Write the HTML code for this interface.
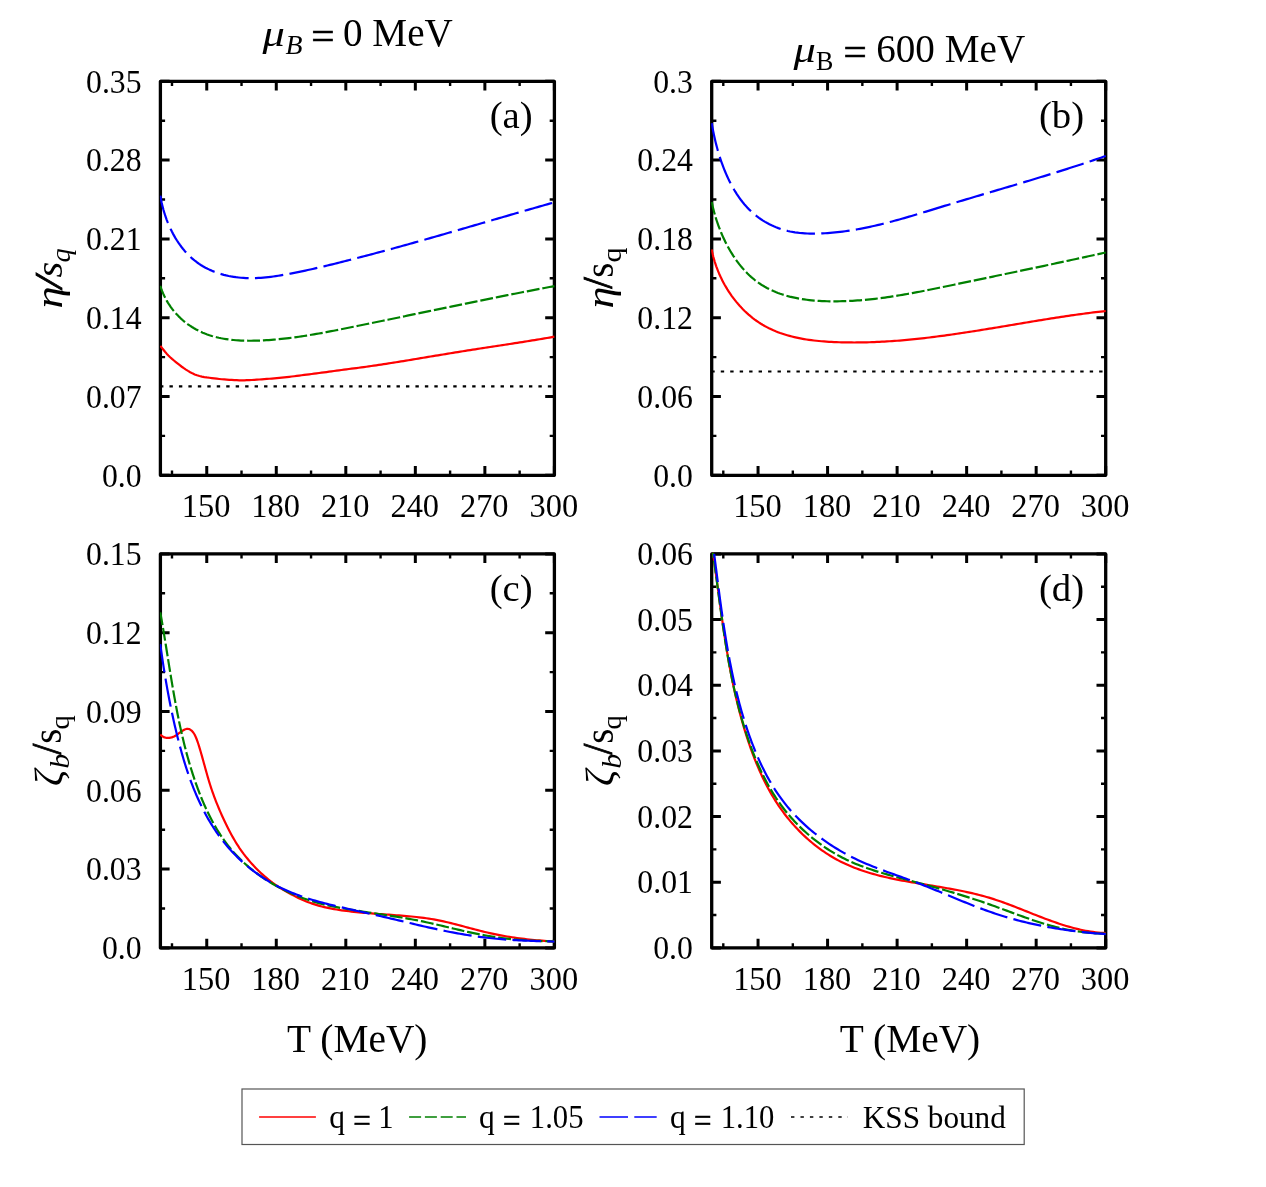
<!DOCTYPE html>
<html><head><meta charset="utf-8"><title>chart</title>
<style>html,body{margin:0;padding:0;background:#fff;}svg{display:block;will-change:transform;}text{font-family:"Liberation Serif",serif;fill:#000;}</style></head><body>
<svg width="1266" height="1187" viewBox="0 0 1266 1187">
<rect x="0" y="0" width="1266" height="1187" fill="#fff"/>
<defs>
<clipPath id="cp_a"><rect x="159.90" y="80.10" width="395.00" height="396.40"/></clipPath>
<clipPath id="cp_b"><rect x="711.20" y="80.10" width="395.00" height="396.40"/></clipPath>
<clipPath id="cp_c"><rect x="159.90" y="552.70" width="395.00" height="396.40"/></clipPath>
<clipPath id="cp_d"><rect x="711.20" y="552.70" width="395.00" height="396.40"/></clipPath>
</defs>
<rect x="160.40" y="81.30" width="394.00" height="394.00" fill="none" stroke="#000" stroke-width="3.30" stroke-linejoin="round"/>
<path d="M206.75,475.30 v-9.20 M206.75,81.30 v9.20 M276.28,475.30 v-9.20 M276.28,81.30 v9.20 M345.81,475.30 v-9.20 M345.81,81.30 v9.20 M415.34,475.30 v-9.20 M415.34,81.30 v9.20 M484.87,475.30 v-9.20 M484.87,81.30 v9.20 M554.40,475.30 v-9.20 M554.40,81.30 v9.20 M160.40,475.30 h9.20 M554.40,475.30 h-9.20 M160.40,396.50 h9.20 M554.40,396.50 h-9.20 M160.40,317.70 h9.20 M554.40,317.70 h-9.20 M160.40,238.90 h9.20 M554.40,238.90 h-9.20 M160.40,160.10 h9.20 M554.40,160.10 h-9.20 M160.40,81.30 h9.20 M554.40,81.30 h-9.20" stroke="#000" stroke-width="3.00" fill="none"/>
<path d="M171.99,475.30 v-4.70 M171.99,81.30 v4.70 M241.52,475.30 v-4.70 M241.52,81.30 v4.70 M311.05,475.30 v-4.70 M311.05,81.30 v4.70 M380.58,475.30 v-4.70 M380.58,81.30 v4.70 M450.11,475.30 v-4.70 M450.11,81.30 v4.70 M519.64,475.30 v-4.70 M519.64,81.30 v4.70 M160.40,435.90 h4.70 M554.40,435.90 h-4.70 M160.40,357.10 h4.70 M554.40,357.10 h-4.70 M160.40,278.30 h4.70 M554.40,278.30 h-4.70 M160.40,199.50 h4.70 M554.40,199.50 h-4.70 M160.40,120.70 h4.70 M554.40,120.70 h-4.70" stroke="#000" stroke-width="2.40" fill="none"/>
<text transform="translate(206.15,517.30) scale(0.965,1)" font-size="33.6" text-anchor="middle">150</text>
<text transform="translate(275.68,517.30) scale(0.965,1)" font-size="33.6" text-anchor="middle">180</text>
<text transform="translate(345.21,517.30) scale(0.965,1)" font-size="33.6" text-anchor="middle">210</text>
<text transform="translate(414.74,517.30) scale(0.965,1)" font-size="33.6" text-anchor="middle">240</text>
<text transform="translate(484.27,517.30) scale(0.965,1)" font-size="33.6" text-anchor="middle">270</text>
<text transform="translate(553.80,517.30) scale(0.965,1)" font-size="33.6" text-anchor="middle">300</text>
<text transform="translate(141.60,486.50) scale(0.945,1)" font-size="33.6" text-anchor="end">0.0</text>
<text transform="translate(141.60,407.70) scale(0.945,1)" font-size="33.6" text-anchor="end">0.07</text>
<text transform="translate(141.60,328.90) scale(0.945,1)" font-size="33.6" text-anchor="end">0.14</text>
<text transform="translate(141.60,250.10) scale(0.945,1)" font-size="33.6" text-anchor="end">0.21</text>
<text transform="translate(141.60,171.30) scale(0.945,1)" font-size="33.6" text-anchor="end">0.28</text>
<text transform="translate(141.60,92.50) scale(0.945,1)" font-size="33.6" text-anchor="end">0.35</text>
<rect x="711.70" y="81.30" width="394.00" height="394.00" fill="none" stroke="#000" stroke-width="3.30" stroke-linejoin="round"/>
<path d="M758.05,475.30 v-9.20 M758.05,81.30 v9.20 M827.58,475.30 v-9.20 M827.58,81.30 v9.20 M897.11,475.30 v-9.20 M897.11,81.30 v9.20 M966.64,475.30 v-9.20 M966.64,81.30 v9.20 M1036.17,475.30 v-9.20 M1036.17,81.30 v9.20 M1105.70,475.30 v-9.20 M1105.70,81.30 v9.20 M711.70,475.30 h9.20 M1105.70,475.30 h-9.20 M711.70,396.50 h9.20 M1105.70,396.50 h-9.20 M711.70,317.70 h9.20 M1105.70,317.70 h-9.20 M711.70,238.90 h9.20 M1105.70,238.90 h-9.20 M711.70,160.10 h9.20 M1105.70,160.10 h-9.20 M711.70,81.30 h9.20 M1105.70,81.30 h-9.20" stroke="#000" stroke-width="3.00" fill="none"/>
<path d="M723.29,475.30 v-4.70 M723.29,81.30 v4.70 M792.82,475.30 v-4.70 M792.82,81.30 v4.70 M862.35,475.30 v-4.70 M862.35,81.30 v4.70 M931.88,475.30 v-4.70 M931.88,81.30 v4.70 M1001.41,475.30 v-4.70 M1001.41,81.30 v4.70 M1070.94,475.30 v-4.70 M1070.94,81.30 v4.70 M711.70,435.90 h4.70 M1105.70,435.90 h-4.70 M711.70,357.10 h4.70 M1105.70,357.10 h-4.70 M711.70,278.30 h4.70 M1105.70,278.30 h-4.70 M711.70,199.50 h4.70 M1105.70,199.50 h-4.70 M711.70,120.70 h4.70 M1105.70,120.70 h-4.70" stroke="#000" stroke-width="2.40" fill="none"/>
<text transform="translate(757.45,517.30) scale(0.965,1)" font-size="33.6" text-anchor="middle">150</text>
<text transform="translate(826.98,517.30) scale(0.965,1)" font-size="33.6" text-anchor="middle">180</text>
<text transform="translate(896.51,517.30) scale(0.965,1)" font-size="33.6" text-anchor="middle">210</text>
<text transform="translate(966.04,517.30) scale(0.965,1)" font-size="33.6" text-anchor="middle">240</text>
<text transform="translate(1035.57,517.30) scale(0.965,1)" font-size="33.6" text-anchor="middle">270</text>
<text transform="translate(1105.10,517.30) scale(0.965,1)" font-size="33.6" text-anchor="middle">300</text>
<text transform="translate(692.90,486.50) scale(0.945,1)" font-size="33.6" text-anchor="end">0.0</text>
<text transform="translate(692.90,407.70) scale(0.945,1)" font-size="33.6" text-anchor="end">0.06</text>
<text transform="translate(692.90,328.90) scale(0.945,1)" font-size="33.6" text-anchor="end">0.12</text>
<text transform="translate(692.90,250.10) scale(0.945,1)" font-size="33.6" text-anchor="end">0.18</text>
<text transform="translate(692.90,171.30) scale(0.945,1)" font-size="33.6" text-anchor="end">0.24</text>
<text transform="translate(692.90,92.50) scale(0.945,1)" font-size="33.6" text-anchor="end">0.3</text>
<rect x="160.40" y="553.90" width="394.00" height="394.00" fill="none" stroke="#000" stroke-width="3.30" stroke-linejoin="round"/>
<path d="M206.75,947.90 v-9.20 M206.75,553.90 v9.20 M276.28,947.90 v-9.20 M276.28,553.90 v9.20 M345.81,947.90 v-9.20 M345.81,553.90 v9.20 M415.34,947.90 v-9.20 M415.34,553.90 v9.20 M484.87,947.90 v-9.20 M484.87,553.90 v9.20 M554.40,947.90 v-9.20 M554.40,553.90 v9.20 M160.40,947.90 h9.20 M554.40,947.90 h-9.20 M160.40,869.10 h9.20 M554.40,869.10 h-9.20 M160.40,790.30 h9.20 M554.40,790.30 h-9.20 M160.40,711.50 h9.20 M554.40,711.50 h-9.20 M160.40,632.70 h9.20 M554.40,632.70 h-9.20 M160.40,553.90 h9.20 M554.40,553.90 h-9.20" stroke="#000" stroke-width="3.00" fill="none"/>
<path d="M171.99,947.90 v-4.70 M171.99,553.90 v4.70 M241.52,947.90 v-4.70 M241.52,553.90 v4.70 M311.05,947.90 v-4.70 M311.05,553.90 v4.70 M380.58,947.90 v-4.70 M380.58,553.90 v4.70 M450.11,947.90 v-4.70 M450.11,553.90 v4.70 M519.64,947.90 v-4.70 M519.64,553.90 v4.70 M160.40,908.50 h4.70 M554.40,908.50 h-4.70 M160.40,829.70 h4.70 M554.40,829.70 h-4.70 M160.40,750.90 h4.70 M554.40,750.90 h-4.70 M160.40,672.10 h4.70 M554.40,672.10 h-4.70 M160.40,593.30 h4.70 M554.40,593.30 h-4.70" stroke="#000" stroke-width="2.40" fill="none"/>
<text transform="translate(206.15,989.90) scale(0.965,1)" font-size="33.6" text-anchor="middle">150</text>
<text transform="translate(275.68,989.90) scale(0.965,1)" font-size="33.6" text-anchor="middle">180</text>
<text transform="translate(345.21,989.90) scale(0.965,1)" font-size="33.6" text-anchor="middle">210</text>
<text transform="translate(414.74,989.90) scale(0.965,1)" font-size="33.6" text-anchor="middle">240</text>
<text transform="translate(484.27,989.90) scale(0.965,1)" font-size="33.6" text-anchor="middle">270</text>
<text transform="translate(553.80,989.90) scale(0.965,1)" font-size="33.6" text-anchor="middle">300</text>
<text transform="translate(141.60,959.10) scale(0.945,1)" font-size="33.6" text-anchor="end">0.0</text>
<text transform="translate(141.60,880.30) scale(0.945,1)" font-size="33.6" text-anchor="end">0.03</text>
<text transform="translate(141.60,801.50) scale(0.945,1)" font-size="33.6" text-anchor="end">0.06</text>
<text transform="translate(141.60,722.70) scale(0.945,1)" font-size="33.6" text-anchor="end">0.09</text>
<text transform="translate(141.60,643.90) scale(0.945,1)" font-size="33.6" text-anchor="end">0.12</text>
<text transform="translate(141.60,565.10) scale(0.945,1)" font-size="33.6" text-anchor="end">0.15</text>
<rect x="711.70" y="553.90" width="394.00" height="394.00" fill="none" stroke="#000" stroke-width="3.30" stroke-linejoin="round"/>
<path d="M758.05,947.90 v-9.20 M758.05,553.90 v9.20 M827.58,947.90 v-9.20 M827.58,553.90 v9.20 M897.11,947.90 v-9.20 M897.11,553.90 v9.20 M966.64,947.90 v-9.20 M966.64,553.90 v9.20 M1036.17,947.90 v-9.20 M1036.17,553.90 v9.20 M1105.70,947.90 v-9.20 M1105.70,553.90 v9.20 M711.70,947.90 h9.20 M1105.70,947.90 h-9.20 M711.70,882.23 h9.20 M1105.70,882.23 h-9.20 M711.70,816.57 h9.20 M1105.70,816.57 h-9.20 M711.70,750.90 h9.20 M1105.70,750.90 h-9.20 M711.70,685.23 h9.20 M1105.70,685.23 h-9.20 M711.70,619.57 h9.20 M1105.70,619.57 h-9.20 M711.70,553.90 h9.20 M1105.70,553.90 h-9.20" stroke="#000" stroke-width="3.00" fill="none"/>
<path d="M723.29,947.90 v-4.70 M723.29,553.90 v4.70 M792.82,947.90 v-4.70 M792.82,553.90 v4.70 M862.35,947.90 v-4.70 M862.35,553.90 v4.70 M931.88,947.90 v-4.70 M931.88,553.90 v4.70 M1001.41,947.90 v-4.70 M1001.41,553.90 v4.70 M1070.94,947.90 v-4.70 M1070.94,553.90 v4.70 M711.70,915.07 h4.70 M1105.70,915.07 h-4.70 M711.70,849.40 h4.70 M1105.70,849.40 h-4.70 M711.70,783.73 h4.70 M1105.70,783.73 h-4.70 M711.70,718.07 h4.70 M1105.70,718.07 h-4.70 M711.70,652.40 h4.70 M1105.70,652.40 h-4.70 M711.70,586.73 h4.70 M1105.70,586.73 h-4.70" stroke="#000" stroke-width="2.40" fill="none"/>
<text transform="translate(757.45,989.90) scale(0.965,1)" font-size="33.6" text-anchor="middle">150</text>
<text transform="translate(826.98,989.90) scale(0.965,1)" font-size="33.6" text-anchor="middle">180</text>
<text transform="translate(896.51,989.90) scale(0.965,1)" font-size="33.6" text-anchor="middle">210</text>
<text transform="translate(966.04,989.90) scale(0.965,1)" font-size="33.6" text-anchor="middle">240</text>
<text transform="translate(1035.57,989.90) scale(0.965,1)" font-size="33.6" text-anchor="middle">270</text>
<text transform="translate(1105.10,989.90) scale(0.965,1)" font-size="33.6" text-anchor="middle">300</text>
<text transform="translate(692.90,959.10) scale(0.945,1)" font-size="33.6" text-anchor="end">0.0</text>
<text transform="translate(692.90,893.43) scale(0.945,1)" font-size="33.6" text-anchor="end">0.01</text>
<text transform="translate(692.90,827.77) scale(0.945,1)" font-size="33.6" text-anchor="end">0.02</text>
<text transform="translate(692.90,762.10) scale(0.945,1)" font-size="33.6" text-anchor="end">0.03</text>
<text transform="translate(692.90,696.43) scale(0.945,1)" font-size="33.6" text-anchor="end">0.04</text>
<text transform="translate(692.90,630.77) scale(0.945,1)" font-size="33.6" text-anchor="end">0.05</text>
<text transform="translate(692.90,565.10) scale(0.945,1)" font-size="33.6" text-anchor="end">0.06</text>
<path d="M160.40,386.42 H554.40" stroke="#000" stroke-width="2.20" stroke-dasharray="3.4 6.06" stroke-dashoffset="0.40" fill="none" clip-path="url(#cp_a)"/>
<path d="M711.70,371.49 H1105.70" stroke="#000" stroke-width="2.20" stroke-dasharray="3.4 6.06" stroke-dashoffset="0.40" fill="none" clip-path="url(#cp_b)"/>
<path d="M160.40,345.80L161.90,347.80 163.44,349.78 165.02,351.73 166.66,353.63 168.37,355.46 170.16,357.22 172.02,358.90 173.92,360.53 175.85,362.13 177.81,363.70 179.78,365.24 181.79,366.75 183.83,368.20 185.92,369.58 188.05,370.91 190.21,372.18 192.42,373.36 194.70,374.41 197.05,375.29 199.45,376.01 201.89,376.59 204.35,377.06 206.83,377.45 209.31,377.78 211.80,378.09 214.29,378.39 216.78,378.70 219.27,378.98 221.76,379.23 224.26,379.45 226.76,379.64 229.26,379.81 231.76,379.96 234.26,380.09 236.77,380.21 239.27,380.28 241.78,380.31 244.29,380.29 246.79,380.22 249.30,380.12 251.80,379.99 254.30,379.84 256.80,379.68 259.30,379.50 261.80,379.32 264.30,379.14 266.80,378.95 269.30,378.75 271.80,378.55 274.30,378.33 276.79,378.11 279.29,377.88 281.78,377.63 284.28,377.37 286.77,377.10 289.26,376.82 291.75,376.53 294.24,376.23 296.72,375.92 299.21,375.60 301.70,375.28 304.18,374.96 306.67,374.64 309.15,374.32 311.64,374.00 314.12,373.68 316.61,373.35 319.10,373.03 321.58,372.70 324.06,372.37 326.55,372.04 329.03,371.70 331.52,371.36 334.00,371.02 336.48,370.68 338.97,370.35 341.45,370.01 343.93,369.68 346.42,369.36 348.91,369.03 351.39,368.71 353.88,368.38 356.36,368.06 358.85,367.73 361.33,367.40 363.81,367.06 366.30,366.72 368.78,366.37 371.26,366.02 373.74,365.66 376.22,365.30 378.70,364.93 381.18,364.56 383.66,364.18 386.13,363.80 388.61,363.42 391.09,363.03 393.56,362.64 396.04,362.24 398.51,361.85 400.99,361.45 403.46,361.04 405.94,360.64 408.41,360.23 410.88,359.82 413.35,359.42 415.83,359.01 418.30,358.59 420.77,358.18 423.24,357.77 425.72,357.36 428.19,356.94 430.66,356.53 433.13,356.12 435.61,355.70 438.08,355.29 440.55,354.88 443.02,354.47 445.50,354.06 447.97,353.65 450.44,353.24 452.91,352.84 455.39,352.44 457.86,352.04 460.34,351.64 462.81,351.24 465.29,350.85 467.76,350.46 470.24,350.07 472.71,349.68 475.19,349.30 477.67,348.91 480.15,348.53 482.62,348.15 485.10,347.77 487.58,347.39 490.05,347.01 492.53,346.63 495.01,346.25 497.49,345.87 499.97,345.49 502.44,345.11 504.92,344.73 507.40,344.35 509.87,343.97 512.35,343.59 514.83,343.20 517.30,342.82 519.78,342.43 522.26,342.04 524.73,341.65 527.21,341.25 529.68,340.85 532.16,340.45 534.63,340.05 537.10,339.65 539.58,339.24 542.05,338.82 544.52,338.41 546.99,337.99 549.46,337.56 551.93,337.13 554.40,336.70" stroke="#ff0000" stroke-width="2.20" fill="none" stroke-linejoin="round" clip-path="url(#cp_a)"/>
<path d="M160.26,285.87L161.13,288.43 162.07,290.93 163.08,293.38 164.17,295.77 165.33,298.10 166.56,300.37 167.86,302.58 169.22,304.73 170.65,306.82 172.13,308.85 173.68,310.82 175.28,312.73 176.94,314.57 178.65,316.35 180.42,318.07 182.23,319.73 184.09,321.32 186.00,322.84 187.95,324.30 189.95,325.70 191.98,327.02 194.05,328.29 196.16,329.48 198.30,330.60 200.48,331.66 202.69,332.65 204.92,333.57 207.18,334.42 209.47,335.21 211.79,335.94 214.12,336.61 216.48,337.21 218.86,337.77 221.26,338.27 223.68,338.71 226.12,339.11 228.57,339.46 231.04,339.76 233.52,340.02 236.01,340.23 238.51,340.40 241.02,340.54 243.54,340.64 246.06,340.70 248.59,340.74 251.12,340.74 253.66,340.71 256.19,340.66 258.73,340.58 261.26,340.48 263.79,340.35 266.32,340.21 268.85,340.05 271.37,339.87 273.89,339.66 276.41,339.45 278.93,339.21 281.44,338.96 283.95,338.68 286.46,338.40 288.96,338.10 291.47,337.78 293.97,337.45 296.47,337.11 298.97,336.75 301.46,336.38 303.95,336.00 306.44,335.61 308.93,335.21 311.42,334.79 313.90,334.37 316.39,333.94 318.87,333.50 321.34,333.05 323.82,332.59 326.30,332.13 328.77,331.67 331.24,331.19 333.71,330.71 336.18,330.23 338.65,329.74 341.11,329.25 343.58,328.76 346.04,328.27 348.50,327.77 350.96,327.27 353.42,326.77 355.88,326.28 358.33,325.78 360.79,325.28 363.24,324.78 365.70,324.28 368.15,323.77 370.60,323.27 373.05,322.77 375.50,322.27 377.94,321.76 380.39,321.26 382.84,320.76 385.28,320.25 387.73,319.75 390.17,319.24 392.61,318.74 395.05,318.23 397.50,317.73 399.94,317.22 402.38,316.72 404.82,316.21 407.26,315.70 409.70,315.20 412.14,314.69 414.58,314.19 417.02,313.68 419.45,313.17 421.89,312.67 424.33,312.16 426.77,311.65 429.21,311.15 431.64,310.64 434.08,310.14 436.52,309.63 438.96,309.13 441.40,308.62 443.83,308.12 446.27,307.61 448.71,307.11 451.15,306.61 453.59,306.10 456.03,305.60 458.47,305.10 460.91,304.60 463.35,304.09 465.79,303.59 468.24,303.09 470.68,302.59 473.12,302.09 475.57,301.59 478.01,301.10 480.46,300.60 482.91,300.10 485.35,299.61 487.80,299.11 490.25,298.62 492.70,298.12 495.15,297.63 497.61,297.14 500.06,296.65 502.51,296.15 504.97,295.66 507.43,295.18 509.89,294.69 512.35,294.20 514.81,293.72 517.27,293.23 519.73,292.75 522.20,292.26 524.67,291.78 527.14,291.30 529.61,290.82 532.08,290.34 534.55,289.87 537.03,289.39 539.50,288.92 541.98,288.44 544.46,287.97 546.95,287.50 549.43,287.03 551.92,286.56 554.41,286.10" stroke="#008000" stroke-width="2.20" fill="none" stroke-linejoin="round" stroke-dasharray="12.9 2.9" clip-path="url(#cp_a)"/>
<path d="M160.34,195.58L160.74,197.97 161.19,200.37 161.69,202.79 162.25,205.21 162.86,207.64 163.52,210.08 164.24,212.52 165.01,214.95 165.84,217.37 166.71,219.79 167.64,222.19 168.63,224.57 169.66,226.94 170.75,229.28 171.89,231.59 173.08,233.87 174.33,236.12 175.62,238.33 176.97,240.50 178.37,242.63 179.82,244.71 181.32,246.75 182.88,248.73 184.48,250.67 186.14,252.54 187.84,254.36 189.60,256.12 191.41,257.81 193.27,259.44 195.18,260.99 197.14,262.48 199.14,263.89 201.20,265.23 203.30,266.49 205.44,267.69 207.62,268.82 209.84,269.87 212.09,270.86 214.37,271.78 216.69,272.64 219.03,273.43 221.40,274.16 223.79,274.82 226.20,275.42 228.63,275.96 231.08,276.44 233.54,276.85 236.01,277.21 238.49,277.51 240.97,277.76 243.46,277.94 245.96,278.08 248.45,278.15 250.94,278.18 253.43,278.15 255.91,278.08 258.40,277.97 260.88,277.81 263.36,277.61 265.84,277.37 268.32,277.10 270.80,276.80 273.28,276.47 275.75,276.12 278.22,275.74 280.69,275.33 283.17,274.91 285.63,274.47 288.10,274.02 290.57,273.56 293.03,273.09 295.50,272.60 297.96,272.11 300.42,271.60 302.88,271.09 305.34,270.57 307.79,270.04 310.25,269.50 312.70,268.95 315.16,268.39 317.61,267.83 320.06,267.26 322.51,266.68 324.96,266.10 327.41,265.52 329.85,264.92 332.30,264.33 334.74,263.72 337.19,263.12 339.63,262.51 342.07,261.90 344.51,261.28 346.95,260.67 349.39,260.05 351.82,259.42 354.26,258.80 356.69,258.17 359.13,257.54 361.56,256.90 363.99,256.27 366.42,255.63 368.85,254.99 371.28,254.34 373.71,253.70 376.14,253.05 378.57,252.40 380.99,251.75 383.42,251.09 385.84,250.44 388.26,249.78 390.69,249.12 393.11,248.45 395.53,247.79 397.95,247.12 400.37,246.46 402.79,245.79 405.21,245.12 407.63,244.44 410.04,243.77 412.46,243.09 414.88,242.41 417.29,241.74 419.70,241.06 422.12,240.37 424.53,239.69 426.94,239.01 429.36,238.32 431.77,237.64 434.18,236.95 436.59,236.26 439.00,235.57 441.41,234.88 443.82,234.19 446.23,233.50 448.64,232.80 451.05,232.11 453.45,231.42 455.86,230.72 458.27,230.03 460.67,229.33 463.08,228.63 465.48,227.94 467.89,227.24 470.30,226.54 472.70,225.84 475.10,225.14 477.51,224.45 479.91,223.75 482.32,223.05 484.72,222.35 487.12,221.65 489.53,220.95 491.93,220.26 494.33,219.56 496.74,218.86 499.14,218.16 501.54,217.46 503.94,216.77 506.35,216.07 508.75,215.37 511.15,214.68 513.55,213.98 515.95,213.29 518.36,212.59 520.76,211.90 523.16,211.21 525.56,210.52 527.96,209.83 530.37,209.14 532.77,208.45 535.17,207.76 537.57,207.07 539.98,206.39 542.38,205.70 544.78,205.02 547.18,204.34 549.59,203.66 551.99,202.98 554.39,202.30" stroke="#0000ff" stroke-width="2.20" fill="none" stroke-linejoin="round" stroke-dasharray="28.5 6.3" clip-path="url(#cp_a)"/>
<path d="M711.71,249.48L712.18,251.89 712.71,254.30 713.30,256.71 713.95,259.11 714.66,261.52 715.43,263.92 716.25,266.31 717.13,268.70 718.06,271.07 719.04,273.43 720.08,275.77 721.17,278.10 722.31,280.40 723.50,282.68 724.74,284.94 726.03,287.17 727.36,289.37 728.75,291.55 730.17,293.68 731.64,295.79 733.16,297.86 734.72,299.89 736.31,301.88 737.95,303.83 739.63,305.74 741.35,307.60 743.11,309.42 744.90,311.19 746.73,312.91 748.60,314.59 750.50,316.21 752.43,317.78 754.40,319.29 756.40,320.75 758.42,322.15 760.48,323.49 762.57,324.77 764.68,325.99 766.83,327.15 768.99,328.26 771.19,329.31 773.40,330.31 775.65,331.26 777.91,332.15 780.19,333.00 782.50,333.80 784.82,334.55 787.17,335.26 789.53,335.92 791.91,336.55 794.30,337.13 796.71,337.67 799.14,338.17 801.58,338.64 804.03,339.07 806.49,339.47 808.96,339.84 811.44,340.18 813.93,340.48 816.43,340.76 818.94,341.01 821.45,341.24 823.96,341.44 826.48,341.62 829.01,341.78 831.53,341.92 834.06,342.04 836.59,342.15 839.11,342.24 841.64,342.31 844.17,342.37 846.69,342.42 849.21,342.45 851.74,342.47 854.26,342.48 856.78,342.47 859.30,342.45 861.81,342.41 864.33,342.37 866.85,342.31 869.37,342.24 871.88,342.16 874.39,342.07 876.91,341.96 879.42,341.84 881.93,341.72 884.44,341.58 886.95,341.43 889.46,341.27 891.97,341.10 894.48,340.92 896.98,340.73 899.49,340.53 901.99,340.32 904.50,340.11 907.00,339.88 909.50,339.64 912.01,339.40 914.51,339.15 917.01,338.89 919.51,338.62 922.01,338.34 924.50,338.06 927.00,337.77 929.50,337.47 932.00,337.16 934.49,336.85 936.99,336.53 939.48,336.21 941.98,335.88 944.47,335.54 946.96,335.20 949.45,334.85 951.95,334.50 954.44,334.14 956.93,333.77 959.42,333.41 961.91,333.03 964.39,332.66 966.88,332.28 969.37,331.89 971.86,331.51 974.34,331.11 976.83,330.72 979.32,330.32 981.80,329.92 984.29,329.52 986.77,329.12 989.26,328.71 991.74,328.30 994.22,327.89 996.71,327.48 999.19,327.06 1001.67,326.65 1004.15,326.24 1006.63,325.82 1009.11,325.40 1011.59,324.99 1014.07,324.57 1016.55,324.15 1019.03,323.74 1021.51,323.32 1023.99,322.91 1026.47,322.49 1028.95,322.08 1031.43,321.67 1033.90,321.26 1036.38,320.85 1038.86,320.45 1041.34,320.04 1043.81,319.64 1046.29,319.24 1048.77,318.85 1051.24,318.46 1053.72,318.07 1056.19,317.68 1058.67,317.30 1061.15,316.92 1063.62,316.55 1066.10,316.18 1068.57,315.81 1071.05,315.45 1073.52,315.10 1076.00,314.75 1078.47,314.40 1080.95,314.06 1083.42,313.73 1085.89,313.40 1088.37,313.08 1090.84,312.77 1093.32,312.46 1095.79,312.16 1098.27,311.86 1100.74,311.58 1103.21,311.30 1105.69,311.03" stroke="#ff0000" stroke-width="2.20" fill="none" stroke-linejoin="round" clip-path="url(#cp_b)"/>
<path d="M711.72,201.99L712.22,204.32 712.75,206.67 713.33,209.03 713.94,211.40 714.60,213.79 715.30,216.19 716.03,218.59 716.81,220.99 717.63,223.40 718.49,225.81 719.39,228.21 720.33,230.60 721.31,232.99 722.33,235.36 723.39,237.72 724.49,240.07 725.63,242.39 726.81,244.70 728.03,246.98 729.29,249.23 730.59,251.46 731.93,253.65 733.31,255.82 734.73,257.94 736.19,260.03 737.69,262.09 739.22,264.10 740.80,266.07 742.41,267.99 744.07,269.86 745.76,271.69 747.49,273.47 749.26,275.19 751.07,276.85 752.92,278.46 754.81,280.01 756.74,281.49 758.70,282.92 760.70,284.27 762.74,285.56 764.82,286.79 766.93,287.96 769.07,289.07 771.24,290.12 773.45,291.11 775.68,292.05 777.94,292.93 780.23,293.76 782.55,294.53 784.88,295.26 787.24,295.94 789.62,296.57 792.03,297.15 794.45,297.69 796.88,298.18 799.34,298.64 801.81,299.05 804.29,299.42 806.78,299.76 809.29,300.05 811.80,300.32 814.33,300.55 816.86,300.74 819.39,300.91 821.94,301.04 824.48,301.15 827.03,301.23 829.57,301.29 832.12,301.32 834.66,301.32 837.20,301.31 839.74,301.27 842.28,301.22 844.81,301.14 847.34,301.05 849.86,300.93 852.39,300.80 854.91,300.64 857.42,300.47 859.94,300.29 862.45,300.08 864.96,299.86 867.47,299.62 869.97,299.37 872.48,299.10 874.98,298.82 877.48,298.52 879.97,298.21 882.46,297.88 884.96,297.54 887.44,297.19 889.93,296.83 892.42,296.46 894.90,296.07 897.38,295.68 899.86,295.27 902.33,294.86 904.81,294.43 907.28,294.00 909.75,293.56 912.22,293.11 914.69,292.65 917.16,292.19 919.62,291.72 922.09,291.24 924.55,290.76 927.01,290.27 929.47,289.78 931.92,289.29 934.38,288.79 936.83,288.28 939.29,287.78 941.74,287.27 944.19,286.76 946.64,286.25 949.09,285.73 951.54,285.22 953.99,284.71 956.43,284.20 958.88,283.68 961.32,283.17 963.77,282.66 966.21,282.15 968.65,281.64 971.09,281.13 973.53,280.62 975.98,280.11 978.42,279.60 980.86,279.09 983.29,278.58 985.73,278.07 988.17,277.56 990.61,277.06 993.05,276.55 995.49,276.04 997.92,275.53 1000.36,275.02 1002.80,274.51 1005.24,274.00 1007.67,273.49 1010.11,272.98 1012.55,272.47 1014.99,271.96 1017.42,271.45 1019.86,270.94 1022.30,270.43 1024.74,269.92 1027.18,269.40 1029.62,268.89 1032.06,268.38 1034.50,267.86 1036.94,267.35 1039.38,266.83 1041.82,266.31 1044.27,265.80 1046.71,265.28 1049.16,264.76 1051.60,264.24 1054.05,263.72 1056.50,263.20 1058.94,262.67 1061.39,262.15 1063.84,261.62 1066.30,261.10 1068.75,260.57 1071.20,260.04 1073.66,259.51 1076.11,258.98 1078.57,258.45 1081.03,257.91 1083.49,257.38 1085.95,256.84 1088.42,256.30 1090.88,255.76 1093.35,255.22 1095.82,254.68 1098.29,254.14 1100.76,253.59 1103.23,253.04 1105.71,252.49" stroke="#008000" stroke-width="2.20" fill="none" stroke-linejoin="round" stroke-dasharray="12.9 2.9" clip-path="url(#cp_b)"/>
<path d="M711.73,123.11L712.12,125.44 712.54,127.78 712.98,130.15 713.46,132.53 713.95,134.93 714.48,137.34 715.03,139.77 715.61,142.20 716.23,144.64 716.87,147.09 717.54,149.54 718.24,152.00 718.98,154.45 719.75,156.90 720.55,159.35 721.38,161.80 722.25,164.24 723.16,166.67 724.10,169.08 725.08,171.49 726.09,173.88 727.14,176.25 728.23,178.61 729.36,180.94 730.53,183.25 731.74,185.53 732.98,187.78 734.27,190.00 735.61,192.19 736.98,194.34 738.40,196.44 739.86,198.51 741.37,200.54 742.92,202.51 744.52,204.44 746.16,206.32 747.85,208.14 749.59,209.91 751.37,211.62 753.21,213.27 755.09,214.86 757.01,216.38 758.98,217.85 760.98,219.25 763.03,220.59 765.12,221.86 767.24,223.07 769.40,224.22 771.59,225.30 773.81,226.31 776.06,227.25 778.34,228.13 780.65,228.94 782.98,229.68 785.34,230.35 787.72,230.95 790.12,231.48 792.54,231.95 794.97,232.35 797.43,232.69 799.89,232.98 802.37,233.21 804.87,233.39 807.37,233.52 809.88,233.60 812.39,233.64 814.91,233.64 817.44,233.60 819.96,233.52 822.49,233.41 825.01,233.27 827.53,233.11 830.05,232.92 832.57,232.70 835.08,232.46 837.59,232.19 840.09,231.90 842.60,231.59 845.09,231.26 847.59,230.90 850.08,230.52 852.57,230.12 855.06,229.71 857.54,229.27 860.02,228.81 862.50,228.34 864.98,227.84 867.45,227.34 869.92,226.81 872.38,226.27 874.85,225.71 877.31,225.14 879.77,224.56 882.22,223.96 884.68,223.35 887.13,222.72 889.58,222.09 892.03,221.44 894.47,220.79 896.91,220.12 899.35,219.45 901.79,218.76 904.22,218.07 906.66,217.37 909.09,216.67 911.52,215.95 913.95,215.24 916.37,214.51 918.80,213.79 921.22,213.06 923.64,212.32 926.06,211.58 928.47,210.85 930.89,210.11 933.30,209.36 935.71,208.62 938.12,207.88 940.53,207.14 942.94,206.40 945.35,205.67 947.75,204.93 950.15,204.20 952.56,203.47 954.96,202.75 957.36,202.02 959.76,201.30 962.15,200.58 964.55,199.86 966.95,199.15 969.34,198.43 971.73,197.72 974.13,197.01 976.52,196.30 978.91,195.59 981.30,194.88 983.69,194.17 986.08,193.46 988.47,192.75 990.86,192.05 993.24,191.34 995.63,190.63 998.02,189.93 1000.40,189.22 1002.79,188.51 1005.18,187.81 1007.56,187.10 1009.95,186.39 1012.33,185.68 1014.72,184.97 1017.10,184.26 1019.49,183.55 1021.87,182.83 1024.26,182.12 1026.64,181.40 1029.03,180.68 1031.41,179.96 1033.80,179.24 1036.19,178.51 1038.57,177.79 1040.96,177.06 1043.35,176.33 1045.73,175.59 1048.12,174.85 1050.51,174.11 1052.90,173.37 1055.29,172.62 1057.68,171.88 1060.07,171.12 1062.47,170.37 1064.86,169.60 1067.25,168.84 1069.65,168.07 1072.04,167.30 1074.44,166.52 1076.84,165.74 1079.24,164.96 1081.64,164.17 1084.04,163.37 1086.44,162.57 1088.84,161.77 1091.25,160.96 1093.66,160.14 1096.06,159.32 1098.47,158.50 1100.88,157.67 1103.29,156.83 1105.71,155.98" stroke="#0000ff" stroke-width="2.20" fill="none" stroke-linejoin="round" stroke-dasharray="28.5 6.3" clip-path="url(#cp_b)"/>
<path d="M160.30,734.50L162.23,736.32 164.44,737.45 166.81,737.96 169.27,737.91 171.73,737.39 174.09,736.46 176.29,735.21 178.36,733.74 180.40,732.21 182.49,730.75 184.71,729.49 187.09,728.72 189.44,729.05 191.56,730.54 193.26,732.47 194.57,734.53 195.64,736.72 196.58,739.00 197.45,741.35 198.25,743.75 199.02,746.18 199.76,748.62 200.48,751.05 201.19,753.48 201.88,755.90 202.56,758.33 203.23,760.75 203.90,763.17 204.56,765.58 205.22,768.00 205.89,770.40 206.56,772.81 207.25,775.21 207.94,777.60 208.64,780.00 209.36,782.38 210.11,784.76 210.87,787.14 211.66,789.51 212.47,791.88 213.31,794.24 214.17,796.60 215.05,798.94 215.96,801.29 216.89,803.62 217.84,805.95 218.80,808.28 219.79,810.59 220.79,812.90 221.82,815.20 222.86,817.50 223.91,819.78 224.98,822.06 226.07,824.33 227.17,826.58 228.30,828.83 229.45,831.06 230.63,833.27 231.83,835.47 233.06,837.66 234.31,839.82 235.60,841.97 236.92,844.09 238.27,846.19 239.65,848.27 241.08,850.32 242.54,852.35 244.03,854.36 245.56,856.33 247.13,858.28 248.73,860.21 250.36,862.11 252.03,863.98 253.73,865.83 255.47,867.64 257.23,869.43 259.03,871.19 260.86,872.93 262.72,874.63 264.61,876.31 266.52,877.95 268.47,879.56 270.44,881.13 272.44,882.65 274.47,884.12 276.52,885.54 278.60,886.91 280.70,888.24 282.83,889.53 284.97,890.79 287.14,892.03 289.33,893.25 291.55,894.45 293.78,895.64 296.03,896.79 298.30,897.91 300.58,898.99 302.88,900.03 305.20,901.01 307.54,901.94 309.89,902.81 312.25,903.64 314.63,904.41 317.02,905.14 319.42,905.83 321.83,906.47 324.26,907.07 326.69,907.64 329.13,908.16 331.58,908.65 334.04,909.10 336.51,909.53 338.98,909.92 341.45,910.29 343.94,910.63 346.42,910.96 348.92,911.26 351.41,911.55 353.91,911.82 356.41,912.08 358.92,912.33 361.42,912.56 363.93,912.79 366.43,913.01 368.94,913.21 371.45,913.42 373.95,913.61 376.46,913.80 378.96,913.99 381.46,914.17 383.96,914.35 386.46,914.53 388.96,914.71 391.46,914.89 393.96,915.08 396.46,915.26 398.95,915.46 401.45,915.65 403.94,915.86 406.44,916.07 408.93,916.29 411.42,916.52 413.91,916.77 416.40,917.03 418.89,917.31 421.37,917.61 423.86,917.92 426.34,918.26 428.82,918.62 431.29,919.01 433.76,919.43 436.23,919.87 438.70,920.35 441.16,920.86 443.62,921.39 446.07,921.96 448.52,922.54 450.97,923.14 453.41,923.75 455.84,924.38 458.27,925.02 460.70,925.66 463.12,926.31 465.54,926.96 467.96,927.60 470.38,928.25 472.80,928.90 475.22,929.53 477.64,930.16 480.07,930.78 482.49,931.39 484.92,931.98 487.36,932.55 489.80,933.11 492.25,933.64 494.70,934.16 497.15,934.66 499.61,935.13 502.08,935.60 504.55,936.04 507.02,936.46 509.50,936.87 511.98,937.26 514.46,937.63 516.95,937.99 519.44,938.32 521.93,938.64 524.42,938.95 526.91,939.24 529.41,939.51 531.91,939.77 534.41,940.01 536.91,940.23 539.41,940.44 541.91,940.64 544.41,940.82 546.90,940.99 549.40,941.14 551.90,941.28 554.40,941.40" stroke="#ff0000" stroke-width="2.20" fill="none" stroke-linejoin="round" clip-path="url(#cp_c)"/>
<path d="M160.28,612.40L160.73,614.87 161.17,617.34 161.60,619.81 162.03,622.27 162.45,624.75 162.87,627.22 163.29,629.69 163.70,632.16 164.11,634.63 164.52,637.11 164.92,639.58 165.33,642.06 165.73,644.53 166.13,647.01 166.52,649.48 166.92,651.96 167.32,654.43 167.71,656.91 168.11,659.38 168.51,661.86 168.90,664.33 169.30,666.81 169.70,669.28 170.10,671.75 170.51,674.23 170.91,676.70 171.32,679.17 171.73,681.64 172.15,684.11 172.57,686.58 172.99,689.05 173.42,691.52 173.85,693.98 174.29,696.45 174.73,698.91 175.18,701.38 175.63,703.84 176.09,706.30 176.56,708.76 177.03,711.21 177.51,713.67 178.00,716.12 178.49,718.57 179.00,721.02 179.51,723.47 180.03,725.92 180.56,728.36 181.10,730.81 181.65,733.25 182.21,735.68 182.78,738.12 183.37,740.55 183.96,742.98 184.56,745.41 185.18,747.84 185.81,750.26 186.45,752.68 187.10,755.10 187.77,757.51 188.45,759.92 189.14,762.33 189.85,764.73 190.57,767.14 191.31,769.54 192.06,771.93 192.83,774.32 193.61,776.71 194.41,779.10 195.22,781.48 196.05,783.86 196.90,786.23 197.77,788.60 198.65,790.96 199.56,793.32 200.48,795.67 201.42,798.01 202.39,800.34 203.37,802.66 204.38,804.97 205.41,807.27 206.46,809.56 207.53,811.83 208.63,814.09 209.75,816.34 210.90,818.57 212.07,820.79 213.27,822.99 214.49,825.17 215.74,827.33 217.02,829.48 218.33,831.60 219.67,833.71 221.03,835.79 222.42,837.85 223.85,839.89 225.30,841.91 226.79,843.90 228.31,845.87 229.86,847.81 231.44,849.72 233.06,851.61 234.71,853.47 236.40,855.30 238.12,857.10 239.87,858.88 241.66,860.62 243.47,862.33 245.32,864.02 247.20,865.67 249.10,867.30 251.04,868.89 252.99,870.46 254.98,872.00 256.99,873.50 259.02,874.98 261.07,876.43 263.15,877.84 265.24,879.23 267.35,880.59 269.48,881.91 271.63,883.21 273.79,884.47 275.97,885.71 278.16,886.92 280.37,888.09 282.59,889.24 284.82,890.35 287.07,891.43 289.33,892.49 291.60,893.51 293.88,894.50 296.17,895.46 298.48,896.39 300.79,897.29 303.12,898.16 305.46,899.00 307.81,899.81 310.16,900.58 312.53,901.33 314.91,902.04 317.29,902.72 319.68,903.37 322.08,903.99 324.49,904.58 326.91,905.15 329.33,905.69 331.76,906.21 334.20,906.70 336.64,907.18 339.09,907.64 341.55,908.09 344.01,908.52 346.47,908.94 348.94,909.36 351.42,909.76 353.90,910.16 356.38,910.56 358.87,910.95 361.35,911.33 363.85,911.72 366.34,912.10 368.84,912.47 371.34,912.85 373.84,913.22 376.34,913.60 378.84,913.98 381.35,914.35 383.85,914.73 386.35,915.12 388.86,915.50 391.36,915.89 393.86,916.29 396.36,916.69 398.86,917.10 401.36,917.52 403.86,917.94 406.35,918.37 408.84,918.81 411.33,919.26 413.81,919.72 416.29,920.20 418.77,920.68 421.24,921.18 423.71,921.69 426.17,922.21 428.63,922.75 431.08,923.29 433.53,923.85 435.98,924.41 438.42,924.98 440.87,925.55 443.30,926.13 445.74,926.71 448.17,927.29 450.61,927.87 453.04,928.45 455.47,929.03 457.89,929.60 460.32,930.17 462.75,930.73 465.17,931.29 467.60,931.84 470.03,932.38 472.45,932.90 474.88,933.42 477.31,933.92 479.74,934.41 482.17,934.88 484.60,935.33 487.04,935.77 489.47,936.18 491.91,936.58 494.35,936.95 496.80,937.31 499.24,937.65 501.70,937.98 504.15,938.28 506.61,938.57 509.07,938.84 511.54,939.09 514.01,939.33 516.49,939.56 518.97,939.77 521.46,939.96 523.95,940.14 526.45,940.31 528.96,940.47 531.47,940.61 533.99,940.74 536.52,940.86 539.05,940.96 541.59,941.06 544.14,941.14 546.70,941.22 549.26,941.29 551.83,941.34 554.42,941.39" stroke="#008000" stroke-width="2.20" fill="none" stroke-linejoin="round" stroke-dasharray="12.9 2.9" clip-path="url(#cp_c)"/>
<path d="M160.29,644.21L160.62,646.66 160.96,649.11 161.31,651.56 161.66,654.01 162.02,656.47 162.38,658.93 162.75,661.40 163.12,663.86 163.50,666.33 163.89,668.80 164.29,671.27 164.69,673.74 165.10,676.22 165.51,678.69 165.93,681.17 166.36,683.64 166.80,686.12 167.24,688.60 167.69,691.07 168.15,693.55 168.61,696.03 169.08,698.50 169.56,700.98 170.05,703.45 170.55,705.93 171.05,708.40 171.56,710.87 172.08,713.34 172.61,715.81 173.15,718.27 173.69,720.74 174.25,723.20 174.81,725.66 175.38,728.11 175.96,730.56 176.55,733.01 177.15,735.46 177.76,737.90 178.38,740.34 179.00,742.78 179.64,745.21 180.29,747.63 180.95,750.06 181.62,752.47 182.30,754.89 183.00,757.29 183.71,759.70 184.43,762.09 185.17,764.49 185.92,766.87 186.69,769.25 187.48,771.62 188.28,773.99 189.10,776.35 189.93,778.71 190.79,781.05 191.66,783.39 192.55,785.72 193.47,788.05 194.40,790.37 195.35,792.68 196.33,794.98 197.33,797.27 198.35,799.55 199.39,801.83 200.45,804.09 201.54,806.35 202.66,808.59 203.79,810.82 204.96,813.03 206.14,815.24 207.36,817.43 208.60,819.60 209.86,821.76 211.15,823.91 212.47,826.04 213.82,828.15 215.20,830.24 216.60,832.32 218.04,834.38 219.50,836.41 221.00,838.43 222.52,840.43 224.08,842.40 225.66,844.36 227.28,846.29 228.93,848.20 230.61,850.08 232.32,851.94 234.07,853.78 235.84,855.59 237.64,857.37 239.47,859.13 241.32,860.86 243.20,862.56 245.11,864.24 247.04,865.88 249.00,867.50 250.97,869.08 252.97,870.64 254.99,872.16 257.04,873.65 259.10,875.10 261.18,876.53 263.27,877.92 265.39,879.27 267.52,880.59 269.67,881.88 271.83,883.12 274.00,884.33 276.19,885.51 278.39,886.64 280.61,887.74 282.83,888.80 285.07,889.83 287.32,890.83 289.58,891.80 291.85,892.73 294.13,893.64 296.42,894.51 298.72,895.36 301.03,896.19 303.35,896.99 305.68,897.76 308.02,898.52 310.37,899.25 312.72,899.96 315.09,900.65 317.46,901.33 319.84,901.99 322.23,902.63 324.62,903.27 327.03,903.88 329.44,904.49 331.85,905.08 334.27,905.67 336.70,906.25 339.13,906.82 341.57,907.38 344.01,907.94 346.46,908.49 348.91,909.05 351.37,909.60 353.83,910.15 356.29,910.70 358.76,911.25 361.23,911.80 363.70,912.35 366.18,912.90 368.66,913.46 371.14,914.01 373.62,914.57 376.10,915.13 378.59,915.69 381.07,916.26 383.56,916.83 386.05,917.40 388.54,917.98 391.02,918.56 393.51,919.15 396.00,919.74 398.48,920.33 400.97,920.93 403.45,921.52 405.94,922.12 408.42,922.71 410.89,923.30 413.37,923.89 415.84,924.48 418.31,925.06 420.78,925.64 423.24,926.21 425.70,926.77 428.16,927.33 430.61,927.88 433.06,928.42 435.51,928.95 437.96,929.48 440.40,929.99 442.84,930.50 445.28,931.00 447.72,931.49 450.16,931.97 452.59,932.44 455.03,932.90 457.46,933.34 459.90,933.78 462.33,934.20 464.77,934.62 467.20,935.02 469.64,935.41 472.07,935.78 474.51,936.14 476.95,936.49 479.39,936.82 481.83,937.14 484.28,937.45 486.72,937.74 489.17,938.01 491.62,938.27 494.08,938.52 496.53,938.75 498.99,938.97 501.46,939.17 503.93,939.36 506.40,939.55 508.87,939.72 511.35,939.88 513.84,940.03 516.33,940.17 518.82,940.30 521.32,940.43 523.83,940.54 526.34,940.65 528.86,940.76 531.38,940.86 533.92,940.95 536.45,941.04 539.00,941.12 541.55,941.21 544.11,941.28 546.67,941.36 549.25,941.44 551.83,941.51 554.42,941.59" stroke="#0000ff" stroke-width="2.20" fill="none" stroke-linejoin="round" stroke-dasharray="28.5 6.3" clip-path="url(#cp_c)"/>
<path d="M711.79,545.00L712.16,547.49 712.54,549.98 712.90,552.48 713.27,554.97 713.63,557.46 713.99,559.96 714.34,562.45 714.69,564.94 715.04,567.43 715.39,569.92 715.73,572.41 716.07,574.90 716.41,577.39 716.75,579.88 717.09,582.37 717.42,584.86 717.76,587.34 718.09,589.83 718.43,592.31 718.76,594.80 719.10,597.28 719.43,599.77 719.77,602.25 720.11,604.73 720.44,607.21 720.78,609.69 721.13,612.17 721.47,614.65 721.82,617.12 722.16,619.60 722.52,622.07 722.87,624.55 723.23,627.02 723.59,629.49 723.96,631.96 724.32,634.43 724.70,636.90 725.08,639.37 725.46,641.84 725.85,644.30 726.24,646.76 726.64,649.23 727.04,651.69 727.45,654.15 727.87,656.61 728.29,659.06 728.72,661.52 729.16,663.97 729.61,666.43 730.06,668.88 730.52,671.33 730.99,673.78 731.46,676.22 731.95,678.67 732.44,681.11 732.94,683.55 733.45,686.00 733.98,688.43 734.51,690.87 735.05,693.31 735.60,695.74 736.16,698.17 736.74,700.60 737.32,703.03 737.91,705.46 738.52,707.88 739.14,710.31 739.77,712.73 740.41,715.15 741.07,717.57 741.74,719.98 742.42,722.39 743.12,724.81 743.82,727.22 744.55,729.62 745.28,732.03 746.03,734.43 746.80,736.83 747.58,739.23 748.37,741.63 749.18,744.02 750.01,746.41 750.85,748.80 751.71,751.18 752.59,753.56 753.48,755.93 754.40,758.30 755.33,760.66 756.28,763.01 757.25,765.35 758.24,767.69 759.25,770.02 760.28,772.33 761.33,774.64 762.40,776.93 763.50,779.22 764.62,781.49 765.76,783.75 766.92,786.00 768.11,788.23 769.33,790.45 770.56,792.65 771.83,794.84 773.11,797.01 774.43,799.16 775.77,801.30 777.14,803.42 778.53,805.52 779.96,807.60 781.41,809.66 782.89,811.70 784.40,813.72 785.93,815.72 787.50,817.70 789.09,819.66 790.70,821.59 792.35,823.49 794.02,825.38 795.71,827.24 797.43,829.07 799.18,830.87 800.95,832.65 802.74,834.41 804.56,836.13 806.40,837.83 808.26,839.49 810.15,841.13 812.06,842.74 813.99,844.31 815.94,845.86 817.91,847.37 819.90,848.85 821.92,850.30 823.95,851.71 826.00,853.09 828.08,854.43 830.17,855.74 832.28,857.01 834.40,858.24 836.55,859.44 838.71,860.60 840.89,861.72 843.09,862.80 845.30,863.85 847.53,864.86 849.77,865.83 852.03,866.77 854.30,867.68 856.59,868.56 858.89,869.40 861.20,870.22 863.53,871.01 865.87,871.77 868.22,872.50 870.58,873.21 872.95,873.89 875.33,874.55 877.72,875.19 880.13,875.81 882.54,876.40 884.96,876.98 887.39,877.54 889.83,878.08 892.27,878.61 894.72,879.12 897.18,879.61 899.65,880.10 902.12,880.57 904.59,881.03 907.07,881.48 909.56,881.92 912.05,882.36 914.54,882.78 917.04,883.21 919.54,883.62 922.04,884.04 924.55,884.45 927.05,884.86 929.56,885.27 932.07,885.68 934.57,886.09 937.08,886.50 939.59,886.92 942.09,887.34 944.60,887.77 947.10,888.21 949.60,888.65 952.10,889.10 954.59,889.57 957.08,890.04 959.57,890.52 962.05,891.02 964.53,891.53 967.00,892.06 969.47,892.61 971.93,893.17 974.39,893.75 976.83,894.35 979.27,894.97 981.70,895.61 984.13,896.27 986.54,896.96 988.95,897.67 991.35,898.41 993.73,899.17 996.11,899.95 998.49,900.75 1000.85,901.57 1003.21,902.40 1005.56,903.26 1007.91,904.12 1010.25,905.00 1012.59,905.89 1014.92,906.79 1017.25,907.70 1019.58,908.61 1021.90,909.53 1024.22,910.45 1026.54,911.38 1028.86,912.30 1031.18,913.23 1033.50,914.15 1035.82,915.07 1038.14,915.98 1040.47,916.88 1042.79,917.78 1045.12,918.66 1047.45,919.54 1049.78,920.40 1052.12,921.25 1054.47,922.08 1056.82,922.89 1059.17,923.68 1061.53,924.46 1063.90,925.21 1066.27,925.93 1068.66,926.63 1071.05,927.31 1073.45,927.96 1075.86,928.57 1078.28,929.16 1080.71,929.71 1083.15,930.23 1085.60,930.71 1088.06,931.16 1090.54,931.57 1093.03,931.93 1095.53,932.26 1098.05,932.54 1100.58,932.78 1103.13,932.97 1105.69,933.11" stroke="#ff0000" stroke-width="2.20" fill="none" stroke-linejoin="round" clip-path="url(#cp_d)"/>
<path d="M711.79,545.00L712.16,547.47 712.51,549.94 712.87,552.40 713.22,554.87 713.57,557.35 713.91,559.82 714.26,562.29 714.60,564.77 714.94,567.25 715.27,569.72 715.61,572.20 715.94,574.68 716.27,577.16 716.60,579.65 716.94,582.13 717.27,584.61 717.60,587.10 717.93,589.58 718.26,592.06 718.59,594.55 718.92,597.04 719.26,599.52 719.59,602.01 719.93,604.49 720.27,606.98 720.61,609.47 720.95,611.95 721.30,614.44 721.64,616.92 722.00,619.41 722.35,621.89 722.71,624.38 723.07,626.86 723.44,629.34 723.81,631.82 724.18,634.30 724.56,636.78 724.95,639.26 725.34,641.74 725.74,644.22 726.14,646.69 726.55,649.17 726.96,651.64 727.38,654.11 727.81,656.58 728.24,659.05 728.68,661.51 729.13,663.98 729.59,666.44 730.06,668.90 730.53,671.36 731.01,673.82 731.50,676.27 732.00,678.72 732.51,681.17 733.03,683.62 733.56,686.07 734.09,688.51 734.64,690.95 735.20,693.38 735.77,695.82 736.35,698.25 736.94,700.68 737.55,703.10 738.16,705.53 738.79,707.95 739.43,710.36 740.08,712.77 740.74,715.18 741.42,717.59 742.11,719.99 742.82,722.39 743.53,724.78 744.27,727.17 745.01,729.56 745.77,731.95 746.55,734.32 747.34,736.70 748.14,739.07 748.96,741.44 749.80,743.80 750.65,746.16 751.52,748.51 752.41,750.85 753.31,753.19 754.23,755.52 755.18,757.84 756.14,760.16 757.12,762.47 758.12,764.76 759.14,767.05 760.18,769.33 761.25,771.60 762.34,773.85 763.45,776.10 764.58,778.33 765.74,780.55 766.92,782.75 768.12,784.94 769.36,787.12 770.61,789.28 771.90,791.43 773.21,793.56 774.55,795.68 775.91,797.77 777.31,799.85 778.73,801.92 780.18,803.96 781.66,805.99 783.18,807.99 784.72,809.98 786.29,811.94 787.90,813.89 789.53,815.81 791.19,817.71 792.88,819.59 794.60,821.44 796.34,823.28 798.11,825.08 799.91,826.87 801.73,828.62 803.58,830.36 805.45,832.06 807.34,833.74 809.25,835.39 811.19,837.02 813.15,838.61 815.13,840.18 817.13,841.72 819.15,843.23 821.19,844.71 823.24,846.15 825.32,847.57 827.41,848.96 829.52,850.31 831.64,851.63 833.78,852.91 835.93,854.17 838.10,855.38 840.28,856.57 842.47,857.72 844.68,858.83 846.90,859.91 849.13,860.95 851.37,861.96 853.62,862.94 855.88,863.89 858.15,864.81 860.44,865.71 862.73,866.58 865.03,867.43 867.34,868.25 869.66,869.05 871.99,869.83 874.33,870.59 876.67,871.34 879.02,872.07 881.38,872.78 883.75,873.48 886.12,874.17 888.50,874.84 890.88,875.51 893.27,876.17 895.67,876.82 898.07,877.47 900.48,878.11 902.89,878.75 905.31,879.38 907.73,880.02 910.15,880.66 912.57,881.30 915.00,881.94 917.44,882.59 919.87,883.24 922.31,883.90 924.75,884.56 927.19,885.22 929.63,885.89 932.07,886.57 934.51,887.25 936.95,887.93 939.40,888.62 941.84,889.32 944.28,890.02 946.72,890.72 949.16,891.44 951.60,892.16 954.04,892.88 956.47,893.61 958.91,894.35 961.34,895.10 963.76,895.85 966.19,896.61 968.61,897.38 971.02,898.15 973.43,898.93 975.84,899.72 978.24,900.52 980.64,901.32 983.03,902.14 985.42,902.96 987.80,903.79 990.17,904.63 992.54,905.47 994.90,906.32 997.26,907.18 999.61,908.05 1001.96,908.91 1004.30,909.78 1006.64,910.65 1008.98,911.52 1011.32,912.38 1013.65,913.25 1015.99,914.11 1018.32,914.96 1020.65,915.81 1022.98,916.65 1025.32,917.49 1027.65,918.31 1029.98,919.12 1032.32,919.92 1034.66,920.71 1037.00,921.48 1039.35,922.24 1041.70,922.98 1044.06,923.70 1046.41,924.41 1048.78,925.09 1051.15,925.75 1053.53,926.39 1055.91,927.01 1058.30,927.60 1060.70,928.17 1063.10,928.71 1065.52,929.23 1067.94,929.72 1070.38,930.19 1072.82,930.63 1075.27,931.04 1077.74,931.43 1080.22,931.78 1082.70,932.11 1085.21,932.42 1087.72,932.69 1090.25,932.94 1092.79,933.15 1095.34,933.34 1097.91,933.50 1100.50,933.62 1103.10,933.72 1105.72,933.78" stroke="#008000" stroke-width="2.20" fill="none" stroke-linejoin="round" stroke-dasharray="12.9 2.9" clip-path="url(#cp_d)"/>
<path d="M712.99,545.02L713.31,547.45 713.63,549.88 713.95,552.32 714.27,554.76 714.59,557.21 714.90,559.66 715.22,562.11 715.54,564.57 715.85,567.03 716.17,569.50 716.48,571.97 716.80,574.44 717.12,576.91 717.44,579.39 717.76,581.87 718.08,584.36 718.40,586.84 718.73,589.33 719.05,591.82 719.38,594.32 719.71,596.81 720.05,599.31 720.39,601.81 720.73,604.31 721.07,606.81 721.42,609.31 721.77,611.81 722.13,614.32 722.49,616.82 722.85,619.32 723.22,621.83 723.59,624.34 723.97,626.84 724.36,629.35 724.75,631.85 725.14,634.36 725.55,636.86 725.95,639.36 726.37,641.87 726.79,644.37 727.22,646.87 727.65,649.37 728.10,651.86 728.55,654.36 729.00,656.85 729.47,659.35 729.94,661.84 730.43,664.32 730.92,666.81 731.42,669.29 731.92,671.77 732.44,674.25 732.97,676.72 733.51,679.19 734.05,681.66 734.61,684.12 735.18,686.58 735.76,689.04 736.35,691.49 736.95,693.94 737.56,696.38 738.18,698.82 738.81,701.26 739.46,703.69 740.12,706.11 740.79,708.53 741.47,710.95 742.17,713.36 742.88,715.76 743.60,718.16 744.33,720.55 745.08,722.94 745.85,725.32 746.62,727.70 747.41,730.06 748.22,732.42 749.04,734.78 749.87,737.13 750.72,739.47 751.59,741.80 752.47,744.13 753.37,746.44 754.28,748.75 755.22,751.05 756.17,753.35 757.13,755.63 758.12,757.90 759.13,760.16 760.16,762.41 761.21,764.66 762.27,766.88 763.37,769.10 764.48,771.31 765.62,773.50 766.78,775.68 767.96,777.85 769.17,780.00 770.40,782.14 771.66,784.27 772.95,786.38 774.26,788.47 775.60,790.55 776.97,792.62 778.37,794.66 779.79,796.69 781.25,798.71 782.74,800.70 784.25,802.68 785.80,804.64 787.38,806.59 788.99,808.51 790.63,810.41 792.31,812.30 794.02,814.16 795.76,816.00 797.53,817.82 799.32,819.63 801.15,821.41 803.00,823.16 804.88,824.90 806.78,826.61 808.71,828.30 810.66,829.97 812.63,831.61 814.63,833.23 816.64,834.82 818.68,836.39 820.73,837.93 822.80,839.45 824.89,840.94 827.00,842.40 829.12,843.84 831.25,845.25 833.40,846.63 835.56,847.99 837.73,849.31 839.91,850.61 842.10,851.88 844.30,853.11 846.51,854.32 848.73,855.50 850.95,856.65 853.18,857.76 855.41,858.85 857.65,859.91 859.89,860.95 862.14,861.96 864.39,862.95 866.65,863.91 868.91,864.86 871.18,865.79 873.45,866.70 875.72,867.60 878.01,868.48 880.29,869.35 882.58,870.21 884.87,871.06 887.17,871.91 889.47,872.75 891.78,873.58 894.09,874.41 896.40,875.24 898.72,876.07 901.04,876.90 903.36,877.73 905.68,878.57 908.01,879.41 910.35,880.26 912.68,881.13 915.02,882.00 917.36,882.88 919.70,883.78 922.05,884.69 924.40,885.61 926.75,886.55 929.10,887.49 931.46,888.44 933.82,889.40 936.17,890.37 938.54,891.35 940.90,892.33 943.26,893.31 945.63,894.29 948.00,895.28 950.37,896.27 952.74,897.25 955.11,898.24 957.48,899.22 959.86,900.20 962.23,901.17 964.61,902.14 966.98,903.10 969.36,904.05 971.74,904.99 974.11,905.92 976.49,906.84 978.87,907.75 981.25,908.65 983.63,909.53 986.01,910.39 988.38,911.24 990.76,912.07 993.14,912.88 995.52,913.68 997.90,914.46 1000.27,915.22 1002.65,915.96 1005.03,916.69 1007.42,917.40 1009.80,918.09 1012.18,918.77 1014.57,919.43 1016.95,920.07 1019.34,920.70 1021.74,921.31 1024.13,921.91 1026.53,922.50 1028.93,923.06 1031.33,923.62 1033.73,924.15 1036.14,924.68 1038.55,925.18 1040.97,925.68 1043.39,926.16 1045.81,926.63 1048.24,927.08 1050.68,927.52 1053.11,927.94 1055.56,928.36 1058.00,928.75 1060.46,929.14 1062.91,929.51 1065.38,929.88 1067.85,930.22 1070.32,930.56 1072.80,930.89 1075.29,931.20 1077.79,931.50 1080.29,931.79 1082.80,932.07 1085.31,932.33 1087.84,932.59 1090.37,932.84 1092.90,933.07 1095.45,933.29 1098.00,933.51 1100.57,933.71 1103.14,933.91 1105.72,934.09" stroke="#0000ff" stroke-width="2.20" fill="none" stroke-linejoin="round" stroke-dasharray="28.5 6.3" stroke-dashoffset="-9.00" clip-path="url(#cp_d)"/>
<text transform="translate(511.15,128.40) scale(1.02,1)" font-size="38" text-anchor="middle">(a)</text>
<text transform="translate(1061.55,128.40) scale(1.02,1)" font-size="38" text-anchor="middle">(b)</text>
<text transform="translate(511.15,601.00) scale(1.02,1)" font-size="38" text-anchor="middle">(c)</text>
<text transform="translate(1061.55,601.00) scale(1.02,1)" font-size="38" text-anchor="middle">(d)</text>
<text transform="translate(262.40,46.20) scale(1.220,1)" font-size="36.5" text-anchor="start" font-style="italic">μ</text>
<text transform="translate(285.40,53.90) scale(1.050,1)" font-size="26.5" text-anchor="start" font-style="italic">B</text>
<text transform="translate(311.20,50.40) scale(1.030,1)" font-size="40.0" text-anchor="start" stroke="#000" stroke-width="0.70">=</text>
<text transform="translate(343.00,46.30) scale(0.955,1)" font-size="41.0" text-anchor="start">0 MeV</text>
<text transform="translate(793.40,61.50) scale(1.220,1)" font-size="36.5" text-anchor="start" font-style="italic">μ</text>
<text transform="translate(816.00,69.60) scale(0.980,1)" font-size="26.5" text-anchor="start">B</text>
<text transform="translate(843.60,65.70) scale(1.030,1)" font-size="40.0" text-anchor="start" stroke="#000" stroke-width="0.70">=</text>
<text transform="translate(876.20,61.60) scale(0.955,1)" font-size="41.0" text-anchor="start">600 MeV</text>
<text transform="translate(357.3,1052.3) scale(0.985,1)" font-size="40" text-anchor="middle">T (MeV)</text>
<text transform="translate(910.0,1052.3) scale(0.985,1)" font-size="40" text-anchor="middle">T (MeV)</text>
<text transform="translate(61.69,308.45) rotate(-90) scale(1.160,1)" font-size="38.2" text-anchor="start" font-style="italic">η</text>
<text transform="translate(61.79,288.14) rotate(-90) scale(1.065,1)" font-size="40.9" text-anchor="start" font-style="italic" stroke="#000" stroke-width="0.80">/</text>
<text transform="translate(61.82,277.51) rotate(-90) scale(1.056,1)" font-size="38.4" text-anchor="start" font-style="italic">s</text>
<text transform="translate(69.76,262.49) rotate(-90) scale(1.039,1)" font-size="27.4" text-anchor="start" font-style="italic">q</text>
<text transform="translate(612.74,308.45) rotate(-90) scale(1.154,1)" font-size="38.4" text-anchor="start" font-style="italic">η</text>
<text transform="translate(612.48,288.70) rotate(-90) scale(0.997,1)" font-size="42.0" text-anchor="start" stroke="#000" stroke-width="0.80">/</text>
<text transform="translate(612.51,277.75) rotate(-90) scale(0.984,1)" font-size="39.4" text-anchor="start">s</text>
<text transform="translate(621.03,262.55) rotate(-90) scale(1.069,1)" font-size="28.0" text-anchor="start">q</text>
<text transform="translate(61.88,785.91) rotate(-90) scale(0.989,1)" font-size="40.7" text-anchor="start" font-style="italic">ζ</text>
<text transform="translate(69.37,768.57) rotate(-90) scale(1.060,1)" font-size="27.6" text-anchor="start" font-style="italic">b</text>
<text transform="translate(60.79,754.80) rotate(-90) scale(0.971,1)" font-size="41.2" text-anchor="start" stroke="#000" stroke-width="0.80">/</text>
<text transform="translate(61.21,743.65) rotate(-90) scale(0.984,1)" font-size="39.4" text-anchor="start">s</text>
<text transform="translate(69.35,729.59) rotate(-90) scale(1.034,1)" font-size="27.4" text-anchor="start">q</text>
<text transform="translate(613.18,785.91) rotate(-90) scale(0.989,1)" font-size="40.7" text-anchor="start" font-style="italic">ζ</text>
<text transform="translate(620.67,768.57) rotate(-90) scale(1.060,1)" font-size="27.6" text-anchor="start" font-style="italic">b</text>
<text transform="translate(612.09,754.80) rotate(-90) scale(0.971,1)" font-size="41.2" text-anchor="start" stroke="#000" stroke-width="0.80">/</text>
<text transform="translate(612.51,743.65) rotate(-90) scale(0.984,1)" font-size="39.4" text-anchor="start">s</text>
<text transform="translate(620.65,729.59) rotate(-90) scale(1.034,1)" font-size="27.4" text-anchor="start">q</text>
<rect x="242.0" y="1089.0" width="782.2" height="55.5" fill="#fff" stroke="#555" stroke-width="1.2"/>
<path d="M259.1,1117.00 H315.9" stroke="#ff0000" stroke-width="1.40" fill="none"/>
<path d="M409.1,1117.00 H466.0" stroke="#008000" stroke-width="1.40" stroke-dasharray="12 3.8" fill="none"/>
<path d="M599.5,1117.00 H656.7" stroke="#0000ff" stroke-width="1.40" stroke-dasharray="28.5 6.3" fill="none"/>
<path d="M791.0,1117.00 H848.0" stroke="#000" stroke-width="1.40" stroke-dasharray="3.4 6.06" fill="none"/>
<text transform="translate(329.30,1127.90) scale(0.955,1)" font-size="33.0" text-anchor="start">q</text>
<text transform="translate(353.30,1131.50) scale(0.940,1)" font-size="33.0" text-anchor="start" stroke="#000" stroke-width="0.60">=</text>
<text transform="translate(378.30,1127.90) scale(0.930,1)" font-size="33.0" text-anchor="start">1</text>
<text transform="translate(479.00,1127.90) scale(0.955,1)" font-size="33.0" text-anchor="start">q</text>
<text transform="translate(503.00,1131.50) scale(0.940,1)" font-size="33.0" text-anchor="start" stroke="#000" stroke-width="0.60">=</text>
<text transform="translate(529.80,1127.90) scale(0.930,1)" font-size="33.0" text-anchor="start">1.05</text>
<text transform="translate(669.90,1127.90) scale(0.955,1)" font-size="33.0" text-anchor="start">q</text>
<text transform="translate(693.90,1131.50) scale(0.940,1)" font-size="33.0" text-anchor="start" stroke="#000" stroke-width="0.60">=</text>
<text transform="translate(720.70,1127.90) scale(0.930,1)" font-size="33.0" text-anchor="start">1.10</text>
<text transform="translate(862.80,1127.90) scale(0.975,1)" font-size="32.0" text-anchor="start">KSS bound</text>
</svg></body></html>
